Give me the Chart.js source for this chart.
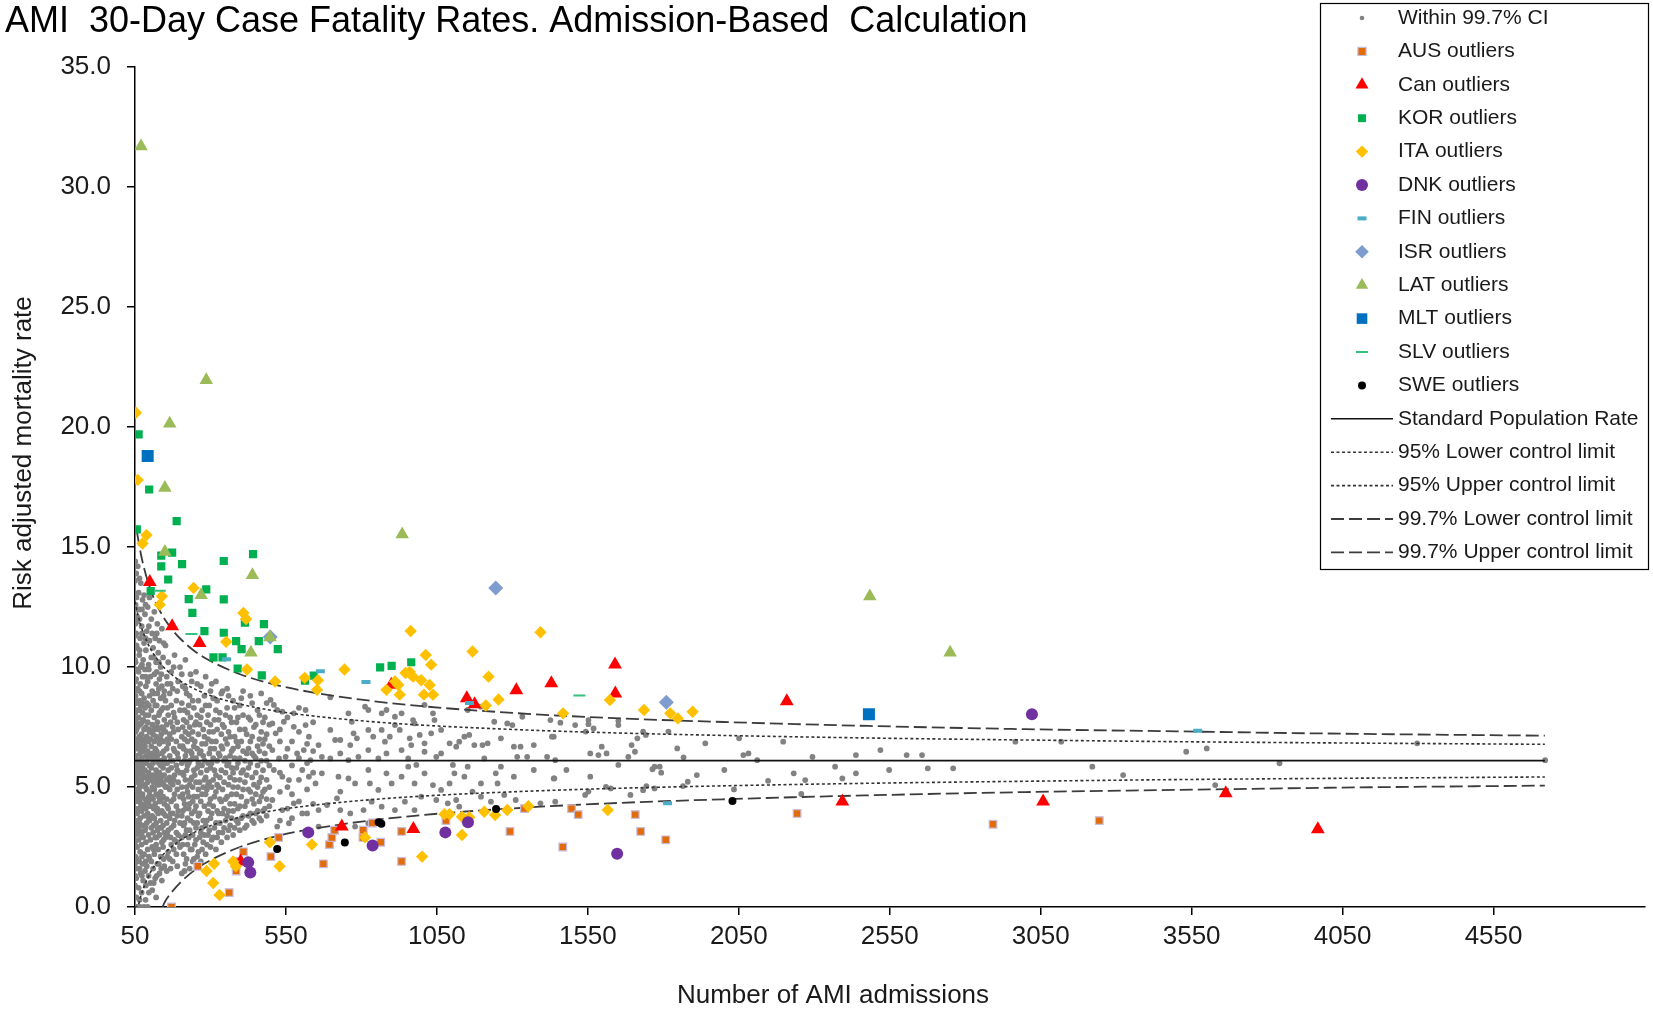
<!DOCTYPE html>
<html>
<head>
<meta charset="utf-8">
<title>AMI 30-Day Case Fatality Rates</title>
<script src="https://cdn.jsdelivr.net/npm/chart.js@4.4.1/dist/chart.umd.min.js"></script>
<style>
  html, body { margin: 0; padding: 0; background: #fff; }
  #wrap { width: 1653px; height: 1011px; }
</style>
</head>
<body>
<div id="wrap"><canvas id="funnel" width="1653" height="1011"></canvas></div>
<script>
// tick labels
const xTicks = [50, 550, 1050, 1550, 2050, 2550, 3050, 3550, 4050, 4550];
const yTicks = [0, 5, 10, 15, 20, 25, 30, 35];

// control limits (admissions -> rate)
const limitN   = [50, 57, 60, 70, 80, 100, 125, 141, 150, 175, 200, 250, 300, 400, 500, 600, 800, 1000, 1300, 1600, 2000, 2500, 3000, 3500, 4000, 4720];
const upper997 = [null, 15.6, 15.37, 14.68, 14.13, 13.28, 12.52, 12.15, 11.96, 11.53, 11.18, 10.64, 10.25, 9.69, 9.31, 9.03, 8.64, 8.37, 8.09, 7.89, 7.71, 7.54, 7.41, 7.32, 7.23, 7.14];
const upper95  = [12.73, 12.31, 12.16, 11.71, 11.35, 10.79, 10.30, 10.05, 9.93, 9.65, 9.42, 9.07, 8.81, 8.45, 8.20, 8.02, 7.76, 7.58, 7.40, 7.27, 7.15, 7.04, 6.96, 6.89, 6.84, 6.78];
const lower95  = [0, 0, 0.04, 0.49, 0.85, 1.41, 1.90, 2.15, 2.27, 2.55, 2.78, 3.13, 3.39, 3.75, 4.00, 4.18, 4.44, 4.62, 4.80, 4.93, 5.05, 5.16, 5.24, 5.31, 5.36, 5.42];
const lower997 = [null, null, null, null, null, null, null, 0, 0.24, 0.67, 1.02, 1.56, 1.95, 2.51, 2.89, 3.17, 3.56, 3.83, 4.11, 4.31, 4.49, 4.66, 4.79, 4.88, 4.97, 5.06];
const stdN     = [50, 4720];
const stdRate  = [6.1, 6.1];

// hospitals inside the 99.7% limits: [admissions, [rates...]]
const withinCI = [
  [50,[0,0.9,1.8,2.7,3.4,4.1,4.8,5.5,6.3,7.0,7.8,8.6,9.4,10.3,11.3,12.4,13.6]],
  [51,[0,1.3,3.0,4.5,5.2,6.6,8.1,9.0,11.8,14.4]],
  [52,[0,2.1,3.6,4.4,5.9,7.3,8.8,10.2,12.6]],[54,[1.2,3.1,4.9,6.3,7.7,9.5,11.4,13.9]],
  [55,[0.4,2.0,3.3,4.0,5.6,6.7,7.4,8.5,9.9,10.9,12.9]],
  [57,[0,2.5,3.9,5.4,6.1,6.9,8.2,10.8,12.1]],[59,[1.6,3.3,4.6,5.7,7.5,9.1,11.9,14.2]],
  [62,[0.8,2.8,4.1,5.2,6.6,7.9,9.8,13.1]],[64,[1.9,3.5,4.8,6.0,7.1,8.6,10.5,12.4]],
  [65,[0.3,1.6,3.2,4.4,5.1,5.9,7.0,8.2,9.0,10.7,12.0,13.7]],
  [67,[0,2.3,3.7,5.0,6.4,7.6,9.3,11.2]],[69,[1.4,3.0,4.3,5.6,6.8,8.4,10.0,13.5]],
  [72,[0.6,2.6,4.0,5.3,6.2,7.2,8.9,11.7]],[73,[1.3,2.1,3.1,4.6,5.5,6.6,7.7,8.5,10.1,11.4,12.4]],
  [75,[1.8,3.4,4.7,5.8,7.0,8.1,9.6,12.8]],
  [77,[1.1,2.9,4.2,5.5,6.5,7.8,10.3]],[80,[0,2.2,3.8,5.1,6.0,7.4,8.7,11.0,13.0]],
  [83,[1.5,3.2,4.5,5.7,6.7,8.3,9.9,12.2]],[85,[0.3,1.9,3.3,4.3,5.0,6.0,6.9,8.0,9.6,11.2,12.6]],
  [86,[0.9,2.7,4.1,5.4,6.3,7.5,9.2,10.7]],
  [89,[1.7,3.5,4.9,6.1,7.1,8.5,11.5]],[92,[0,2.4,3.9,5.2,6.5,7.7,9.4,12.5]],
  [95,[1.3,3.0,4.4,5.6,6.9,8.0,10.1]],[96,[0.6,2.1,3.7,4.6,5.4,6.3,7.4,8.4,9.9,11.7]],
  [98,[2.0,3.6,4.8,5.9,7.3,8.8,11.1,12.9]],
  [101,[1.0,2.8,4.2,5.3,6.2,7.0,9.6]],[104,[1.9,3.3,4.6,5.8,6.7,8.2,10.4,12.0]],
  [107,[0.7,2.5,3.8,5.0,6.4,7.6,9.0,11.4]],[110,[1.6,3.1,4.5,5.5,6.0,7.2,8.6,10.8]],
  [112,[1.0,2.4,3.4,4.1,5.2,6.4,7.4,8.9,10.4]],
  [114,[2.2,3.7,4.9,6.2,6.9,7.9,9.7,12.3]],[117,[1.2,2.9,4.3,5.4,6.6,8.4,11.2]],
  [120,[0.4,2.6,3.5,4.7,5.7,7.1,9.3,10.2]],[122,[1.3,2.9,4.0,5.5,6.5,7.5,8.4,9.8,11.4]],
  [124,[1.8,3.2,4.1,5.1,6.3,7.7,8.9,11.8]],
  [127,[2.4,3.9,5.3,6.1,7.4,10.6]],[129,[1.8,3.3,4.6,5.1,6.0,7.0,8.0,9.1,10.2]],
  [131,[1.4,3.0,4.4,5.6,6.8,8.1,9.5,11.1]],
  [135,[2.1,3.6,4.8,5.9,7.0,8.7,10.0]],[137,[1.6,3.3,4.5,5.4,6.1,7.2,8.2,9.7]],
  [139,[1.1,2.7,4.0,5.2,6.4,7.5,9.2,11.6]],
  [143,[2.5,3.4,4.6,5.8,6.9,8.3,10.4]],[145,[2.0,2.8,3.9,5.1,6.5,7.4,8.8,11.0]],
  [147,[1.7,3.1,4.3,5.5,6.2,7.8,9.0]],
  [151,[2.9,3.8,5.0,6.0,7.3,8.6,10.9]],[155,[1.5,3.5,4.5,5.3,6.6,7.6,9.6]],
  [157,[2.1,3.0,4.2,5.0,6.0,7.0,8.3,9.3]],
  [160,[2.3,3.2,4.1,5.7,6.8,8.0,10.2]],[165,[2.0,3.7,4.9,5.4,6.3,7.2,8.9]],
  [168,[1.6,2.9,3.9,5.2,6.1,7.7,9.3]],
  [170,[2.6,3.3,4.4,5.8,7.0,8.4,9.8]],[175,[1.9,3.9,5.1,6.1,7.5,9.1]],
  [178,[2.4,3.4,4.5,5.3,6.6,7.3,8.1,10.0]],
  [181,[2.8,3.6,4.7,5.5,6.5,7.9,10.5]],[187,[2.2,3.1,4.2,5.9,6.9,8.6]],
  [190,[1.7,2.7,3.8,4.9,5.7,6.4,7.7,9.0]],
  [193,[3.0,4.0,5.2,6.2,7.4,9.4]],[199,[2.5,3.5,4.6,5.6,6.7,8.2,10.0]],
  [205,[1.4,2.9,3.8,5.0,6.0,7.1,8.5,9.7]],[208,[2.6,4.0,4.7,5.6,6.7,7.5,9.2]],
  [211,[2.2,3.4,4.5,5.5,6.6,7.8]],[214,[1.5,3.5,4.3,6.1,7.0,8.2]],
  [217,[1.8,3.0,4.1,5.3,6.3,7.3,9.1,10.3]],[221,[2.0,3.2,5.0,5.7,6.5,7.7,8.9]],
  [224,[2.6,3.7,4.8,5.9,6.9,8.1]],[228,[2.9,4.1,4.6,6.0,7.2,8.4]],
  [231,[1.6,3.2,4.3,5.1,6.1,7.5,8.8]],[234,[2.4,3.6,5.3,6.5,7.9,9.7]],
  [238,[2.4,3.9,5.4,6.4,7.0,9.4]],[241,[1.9,3.0,4.4,5.0,6.2,7.3,8.6]],
  [245,[2.0,3.5,4.6,5.7,6.7,8.3]],[248,[2.6,4.0,5.5,6.9,7.6]],
  [252,[2.8,3.3,4.2,5.2,6.2,7.7,9.8]],[256,[2.1,3.5,4.6,5.8,6.6,8.0,9.3]],
  [260,[2.3,3.8,4.9,6.0,7.2,8.6]],[264,[2.9,3.9,5.2,6.4,7.6]],
  [268,[1.9,3.1,4.4,5.6,6.5,7.9,9.2]],[272,[2.4,3.3,4.7,5.9,6.8,8.2]],
  [276,[2.7,3.6,5.0,6.3,7.4]],[280,[3.0,4.2,5.3,6.1,7.1,8.8]],
  [284,[2.2,3.4,4.7,5.4,6.8,8.4,9.6]],[288,[2.6,3.6,4.9,5.7,7.7]],
  [292,[3.0,4.0,5.1,6.0,7.0,8.0]],[296,[3.2,4.3,5.2,6.4,7.3,8.4]],
  [300,[2.5,3.7,4.5,5.8,6.6,7.6,9.0]],[304,[2.8,3.9,5.0,6.0,6.9,9.3]],
  [309,[2.9,4.2,5.3,6.2,7.3,8.7]],[313,[3.3,4.6,5.7,6.6,7.8]],
  [318,[2.4,3.5,4.8,5.5,6.9,8.2,9.4]],[322,[2.9,4.0,5.1,6.1,7.4,8.6]],
  [327,[3.1,3.9,5.0,6.4,7.8]],[331,[3.5,4.5,5.4,6.3,8.1]],
  [336,[2.7,4.4,5.7,6.7,7.2,8.9]],[340,[3.1,3.9,4.9,6.6,7.6,9.0]],
  [345,[3.3,4.1,5.2,6.1,7.5]],[350,[3.6,4.5,5.6,6.2,7.0,8.0]],
  [355,[2.9,3.8,4.6,5.9,6.8,8.3,9.1]],[360,[3.2,4.0,5.1,6.0,7.3,8.8]],
  [365,[3.4,4.3,5.4,6.3,7.1,7.9]],[370,[3.7,4.7,5.8,6.5,7.7]],
  [375,[3.0,4.0,5.0,5.6,6.6,8.6]],[380,[3.3,4.3,5.3,6.2,7.1,8.3]],
  [386,[3.6,4.7,5.8,6.9,7.7]],[391,[3.5,4.1,5.0,6.0,6.7,7.9]],
  [397,[3.2,4.2,5.3,6.2,7.4,8.4]],[402,[3.7,4.6,5.6,6.9,8.7]],
  [408,[3.8,4.9,5.7,6.5,8.0,9.0]],[414,[3.3,4.2,5.2,6.1,7.4]],
  [420,[3.4,4.4,5.5,6.4,7.2]],[426,[3.8,4.9,5.8,6.6,7.9]],
  [432,[3.9,4.8,6.0,6.9,7.8,8.8]],[438,[3.6,4.5,5.4,6.4,7.1,8.5]],
  [444,[3.5,4.3,5.1,6.3,7.5]],[450,[3.9,4.7,5.6,6.2,7.6]],
  [456,[4.0,5.0,5.9,6.7,8.2]],[462,[3.7,4.4,5.2,6.5,7.0,8.0]],
  [468,[3.6,4.6,5.4,6.1,7.3,8.9]],[474,[4.0,4.8,5.7,6.8,7.7]],
  [480,[4.1,4.9,6.4,7.0,7.9]],[486,[3.8,4.5,5.3,6.1,7.2,8.5]],
  [495,[4.2,5.0,5.9,6.7,7.6]],
  [499,[8.63]],[505,[7.65,6.54,4.46]],[510,[8.42,5.71]],[516,[7.24]],[521,[8.21,3.35]],
  [527,[6.19]],[530,[3.6,4.8,5.6,6.9,7.4]],[538,[8.14,5.43,4.04]],[543,[7.72]],[549,[6.26]],
  [555,[4.1,5.0,6.6,7.9]],[560,[5.29,3.49]],[570,[3.7,4.7,5.9,6.9]],
  [576,[8.07,7.51,4.32]],[587,[6.40]],[593,[4.4,5.3,6.2,7.3,8.3]],[604,[5.71,3.90]],[609,[6.54]],
  [615,[8.21,7.58]],[620,[3.9,4.9,6.0,6.8]],
  [626,[7.10,5.43]],[631,[6.12]],[640,[4.3,5.6,6.5,7.7]],[648,[5.15]],[658,[6.75,4.04,3.35]],[669,[6.26,5.57]],
  [686,[4.25]],[697,[8.74,7.38,6.19]],[713,[6.96]],[719,[4.53]],[724,[5.43]],
  [730,[6.96,6.40,4.81,4.04]],[757,[8.07,6.12,5.36]],[763,[6.75,3.90]],[768,[7.72]],
  [774,[7.24]],[779,[5.15,3.35]],[785,[7.03]],[790,[6.26]],[807,[4.04]],[812,[8.35]],
  [823,[8.21,7.38,6.54,5.71,3.49]],[828,[5.15]],[834,[4.39]],[839,[7.10]],[856,[6.19,4.88]],
  [867,[8.07,7.38,4.18]],[878,[6.89]],[883,[8.21,6.40,5.57]],[894,[7.10]],[900,[5.15]],
  [911,[7.93,7.58,4.04]],[927,[7.38]],[933,[8.07,6.54,5.43]],[944,[4.39]],[955,[6.19,5.85]],
  [960,[7.03]],[965,[6.75]],[971,[7.79]],[976,[7.65,5.15,4.04]],[982,[5.92]],[993,[7.17]],
  [998,[4.60]],[1009,[8.42,6.82,6.47,5.57]],[1031,[7.24]],[1037,[8.07,5.08]],[1042,[7.79]],
  [1048,[6.26,4.46]],[1064,[7.38,6.40,4.88]],[1086,[4.32]],[1092,[6.82,5.15]],[1103,[5.92]],
  [1108,[5.57]],[1114,[6.68,4.46]],[1124,[6.89,4.18]],[1141,[7.10,5.43]],[1152,[8.21,5.85]],
  [1157,[7.17]],[1168,[4.81]],[1174,[6.75]],[1196,[8.35,5.15,4.60]],[1201,[6.75]],
  [1207,[6.19]],[1218,[6.82]],[1229,[4.39]],[1240,[7.72]],[1245,[5.57]],[1251,[5.15]],
  [1262,[7.03,5.85]],[1273,[4.67]],[1283,[7.65]],[1300,[7.58]],[1305,[6.68,5.43]],
  [1311,[4.46]],[1316,[6.26]],[1327,[6.68]],[1333,[7.93]],[1349,[6.26]],[1371,[6.75,5.71]],
  [1393,[4.32]],[1415,[6.26]],[1426,[7.79]],[1437,[7.10,5.36]],
  [1431,[7.10]],[1439,[5.36]],[1442,[6.12,4.39]],[1459,[7.68]],[1479,[5.71]],[1508,[7.58]],
  [1541,[4.67]],[1543,[7.31]],[1552,[7.79,7.62,4.81]],[1558,[6.40,5.43]],[1569,[7.44]],
  [1585,[6.33]],[1596,[6.68]],[1610,[5.01]],[1612,[6.40]],[1626,[4.94]],[1651,[7.76,7.58,5.92]],
  [1684,[6.26]],[1691,[4.67]],[1695,[6.75]],[1706,[6.47]],[1714,[7.03]],[1733,[7.31,4.87]],
  [1742,[7.17]],[1744,[5.04]],[1764,[5.74]],[1771,[5.85,4.94]],[1788,[5.85]],[1793,[5.6]],
  [1817,[7.31]],[1846,[6.61]],[1865,[5.04]],[1867,[6.24]],[1881,[5.22]],[1911,[5.5]],
  [1939,[6.82]],[2002,[5.71]],[2034,[4.9]],[2051,[7.03]],[2065,[6.33]],[2082,[6.40]],
  [2111,[6.12]],[2147,[5.26]],[2197,[6.89]],[2232,[5.57]],[2257,[4.71]],[2270,[5.29]],
  [2294,[6.26]],[2369,[5.85]],[2393,[5.36]],[2438,[6.33,5.57]],[2519,[6.54]],[2548,[5.71]],
  [2606,[6.33]],[2657,[6.33]],[2676,[5.78]],[2760,[5.78]],[2966,[6.89]],[3118,[6.89]],
  [3221,[5.85]],[3323,[5.5]],[3532,[6.47]],[3600,[6.61]],[3628,[5.08]],[3841,[5.99]],
  [4297,[6.82]],[4721,[6.12]]
];

// outliers by country: [admissions, rate]
const ausOut = [[171,0.0],[258,1.7],[362,0.6],[385,1.5],[388,1.9],[409,2.3],[500,2.1],[526,2.9],[674,1.8],[694,2.6],[702,2.9],[711,3.2],[805,2.9],[806,3.2],[836,3.5],[864,2.7],[933,3.15],[933,1.9],[1080,3.6],[1292,3.15],[1340,4.1],[1467,2.5],[1496,4.1],[1518,3.85],[1707,3.85],[1725,3.15],[1808,2.8],[2243,3.9],[2892,3.45],[3244,3.6]];
const canOut = [[99,13.55],[173,11.7],[264,11.0],[400,1.9],[735,3.35],[899,9.26],[972,3.25],[1149,8.7],[1175,8.45],[1313,9.03],[1429,9.33],[1640,10.11],[1641,8.9],[2209,8.58],[2393,4.4],[3058,4.4],[3663,4.74],[3968,3.24]];
const korOut = [[56,15.74],[62,19.7],[97,17.4],[102,13.17],[137,14.64],[137,14.2],[160,13.65],[173,14.77],[188,16.08],[206,14.29],[228,12.83],[240,12.26],[280,11.5],[286,13.24],[310,10.4],[340,10.4],[344,14.42],[344,12.82],[344,11.43],[385,11.08],[390,9.94],[403,10.75],[414,11.85],[441,14.71],[460,11.08],[470,9.65],[477,11.79],[523,10.75],[613,9.43],[642,9.64],[862,9.99],[900,10.05],[965,10.2]];
const itaOut = [[53,20.6],[59,17.8],[75,15.15],[88,15.5],[132,12.6],[139,12.95],[244,13.3],[352,11.05],[409,12.25],[418,12.0],[421,9.9],[514,9.4],[612,9.55],[653,9.05],[656,9.45],[744,9.9],[883,9.05],[911,9.4],[922,9.25],[927,8.85],[946,9.75],[960,9.8],[963,11.5],[971,9.6],[998,9.45],[1007,8.85],[1013,10.5],[1026,9.25],[1031,10.1],[1037,8.85],[1168,10.65],[1212,8.4],[1221,9.6],[1254,8.65],[1393,11.45],[1468,8.07],[1623,8.63],[1736,8.21],[1823,8.07],[1848,7.86],[1897,8.14],[287,1.5],[312,1.8],[309,1.0],[330,0.5],[375,1.9],[384,1.7],[497,2.7],[529,1.7],[636,2.6],[812,2.9],[1001,2.1],[1075,3.87],[1092,3.87],[1133,3.0],[1133,3.76],[1157,3.74],[1207,3.97],[1243,3.83],[1283,4.04],[1353,4.2],[1616,4.04]];
const dnkOut = [[425,1.86],[432,1.44],[624,3.11],[837,2.56],[1078,3.11],[1153,3.53],[1647,2.22],[3021,8.03]];
const finOut = [[353,10.33],[664,9.83],[815,9.38],[1158,8.5],[1814,4.32],[3570,7.35]];
const isrOut = [[498,11.25],[1245,13.3],[1810,8.53]];
const latOut = [[70,31.7],[149,14.8],[149,17.47],[165,20.15],[269,13.0],[286,21.96],[434,10.6],[439,13.83],[497,11.24],[935,15.53],[2484,12.95],[2750,10.6]];
const mltOut = [[92,18.8],[2481,8.03]];
const slvOut = [[132,13.18],[237,11.38],[1522,8.81]];
const sweOut = [[521,2.42],[745,2.69],[857,3.53],[866,3.47],[1246,4.08],[2029,4.42]];

const FONT = "'Liberation Sans', Arial, sans-serif";

function pts(list) {
  return list.map(p => ({ x: p[0], y: p[1] }));
}
function curve(ns, vals) {
  return ns.map((n, i) => ({ x: n, y: vals[i] }));
}

const withinPts = [];
withinCI.forEach(col => col[1].forEach(r => withinPts.push({ x: col[0], y: r })));

function outlier(label, list, style, radius, color, order, extra) {
  return Object.assign({
    label: label,
    data: pts(list),
    pointStyle: style,
    pointRadius: radius,
    legendRadius: radius,
    backgroundColor: color,
    borderColor: color,
    borderWidth: 0,
    order: order
  }, extra || {});
}

function limitLine(label, ns, vals, dash, color, width) {
  return {
    label: label,
    data: curve(ns, vals),
    showLine: true,
    pointRadius: 0,
    borderColor: color,
    borderWidth: width,
    borderDash: dash,
    cubicInterpolationMode: 'monotone',
    spanGaps: false,
    fill: false,
    order: 50
  };
}

const datasets = [
  { label: 'Within 99.7% CI', data: withinPts, pointStyle: 'circle', pointRadius: 2.9, legendRadius: 2.3,
    backgroundColor: '#828282', borderColor: '#828282', borderWidth: 0, order: 100 },
  outlier('AUS outliers', ausOut, 'rect', 5.4, '#E36C0A', 12, { borderColor: '#C8BCDC', borderWidth: 1.2, legendRadius: 5.8 }),
  outlier('Can outliers', canOut, 'triangle', 8, '#FF0000', 11, { legendRadius: 7.5 }),
  outlier('KOR outliers', korOut, 'rect', 5.8, '#00B050', 10, { legendRadius: 5.6 }),
  outlier('ITA outliers', itaOut, 'rectRot', 6.2, '#FFC000', 9, { legendRadius: 6.2 }),
  outlier('DNK outliers', dnkOut, 'circle', 6, '#7030A0', 8, { legendRadius: 6 }),
  outlier('FIN outliers', finOut, 'line', 4.5, '#4BACC6', 7, { borderWidth: 4 }),
  outlier('ISR outliers', isrOut, 'rectRot', 7.5, '#7F9CCF', 6, { legendRadius: 6.8 }),
  outlier('LAT outliers', latOut, 'triangle', 7.8, '#9BBB59', 5, { legendRadius: 7.2 }),
  outlier('MLT outliers', mltOut, 'rect', 8.5, '#0070C0', 4, { legendRadius: 7.5 }),
  outlier('SLV outliers', slvOut, 'line', 6, '#33C27B', 3, { borderWidth: 2 }),
  outlier('SWE outliers', sweOut, 'circle', 4, '#000000', 2, { legendRadius: 4 }),
  limitLine('Standard Population Rate', stdN, stdRate, [], '#111', 1.6),
  limitLine('95% Lower control limit', limitN, lower95, [3, 2.5], '#333', 1.6),
  limitLine('95% Upper control limit', limitN, upper95, [3, 2.5], '#333', 1.6),
  limitLine('99.7% Lower control limit', limitN, lower997, [13, 5], '#3c3c3c', 1.8),
  limitLine('99.7% Upper control limit', limitN, upper997, [13, 5], '#3c3c3c', 1.8)
];

// legend box drawn over the top-right of the plot, as in the original
const legendBox = {
  id: 'legendBox',
  afterDraw(chart) {
    const ctx = chart.ctx;
    ctx.save();
    ctx.fillStyle = '#fff';
    ctx.fillRect(1320, 3, 328, 566);
    ctx.strokeStyle = '#000';
    ctx.lineWidth = 1.2;
    ctx.strokeRect(1320.5, 3.5, 328, 566);
    ctx.font = '21px ' + FONT;
    ctx.textBaseline = 'middle';
    ctx.textAlign = 'left';
    chart.data.datasets.forEach((ds, i) => {
      const y = 18 + i * 33.4;
      if (ds.showLine) {
        ctx.strokeStyle = ds.borderColor;
        ctx.lineWidth = ds.borderWidth;
        ctx.setLineDash(ds.borderDash);
        ctx.beginPath();
        ctx.moveTo(1331, y);
        ctx.lineTo(1393, y);
        ctx.stroke();
        ctx.setLineDash([]);
      } else {
        ctx.fillStyle = ds.backgroundColor;
        ctx.strokeStyle = ds.borderColor;
        ctx.lineWidth = ds.borderWidth;
        Chart.helpers.drawPoint(ctx, { pointStyle: ds.pointStyle, radius: ds.legendRadius, rotation: 0, borderWidth: ds.borderWidth }, 1362, y);
      }
      ctx.fillStyle = '#1a1a1a';
      ctx.fillText(ds.label, 1398, y);
    });
    ctx.restore();
  }
};

// axis titles sit off-centre in the original, so place them by hand
const axisTitles = {
  id: 'axisTitles',
  afterDraw(chart) {
    const ctx = chart.ctx;
    ctx.save();
    ctx.fillStyle = '#1a1a1a';
    ctx.font = '26px ' + FONT;
    ctx.textAlign = 'center';
    ctx.textBaseline = 'middle';
    ctx.fillText('Number of AMI admissions', 833, 996);
    ctx.translate(24, 453);
    ctx.rotate(-Math.PI / 2);
    ctx.fillText('Risk adjusted mortality rate', 0, 0);
    ctx.restore();
  }
};

const axisGrid = { display: true, drawOnChartArea: false, drawTicks: true, tickLength: 8, color: '#000', lineWidth: 1.5 };
const axisBorder = { display: true, color: '#000', width: 1.5 };

new Chart(document.getElementById('funnel').getContext('2d'), {
  type: 'scatter',
  data: { datasets: datasets },
  options: {
    responsive: false,
    devicePixelRatio: 1,
    animation: false,
    events: [],
    layout: { padding: { left: 5, right: 0, top: 0, bottom: 0 } },
    scales: {
      x: {
        type: 'linear',
        min: 50,
        max: 5050,
        afterBuildTicks: axis => { axis.ticks = xTicks.map(v => ({ value: v })); },
        afterFit: scale => { scale.height = 104; },
        ticks: { autoSkip: false, maxRotation: 0, padding: 6, color: '#1a1a1a', font: { family: FONT, size: 26 },
          callback: v => String(v) },
        grid: axisGrid,
        border: axisBorder
      },
      y: {
        min: 0,
        max: 35,
        afterBuildTicks: axis => { axis.ticks = yTicks.map(v => ({ value: v })); },
        afterFit: scale => { scale.width = 130; },
        ticks: { padding: 16, color: '#1a1a1a', font: { family: FONT, size: 26 },
          callback: v => Number(v).toFixed(1) },
        grid: axisGrid,
        border: axisBorder
      }
    },
    plugins: {
      legend: { display: false },
      tooltip: { enabled: false },
      title: {
        display: true,
        text: 'AMI  30-Day Case Fatality Rates. Admission-Based  Calculation',
        align: 'start',
        color: '#000',
        font: { family: FONT, size: 36, weight: 'normal' },
        padding: { top: 0, bottom: 24 }
      }
    }
  },
  plugins: [axisTitles, legendBox]
});
</script>
</body>
</html>
